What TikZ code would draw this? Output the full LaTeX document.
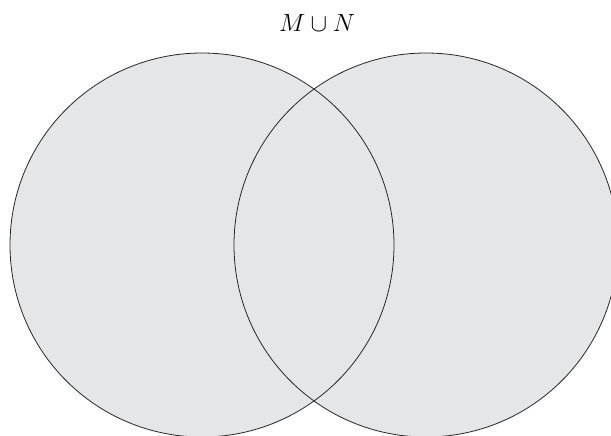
\documentclass[tikz,border=0pt]{standalone}
\usepackage{amsmath}
\definecolor{setfill}{RGB}{229,230,232}
\begin{document}
\begin{tikzpicture}[x=1pt,y=-1pt,
  setcircle/.style={draw=black!85,line width=0.8pt},
  lbl/.style={font=\fontsize{26}{31}\selectfont}]
\useasboundingbox (0,0) rectangle (611,436);
\begin{scope}
\clip (0,0) rectangle (611,436);
\fill[setfill] (202,245) circle[radius=192];
\fill[setfill] (426,245) circle[radius=192];
\node[setcircle,circle,minimum size=384pt,inner sep=0pt] (M) at (202,245) {};
\node[setcircle,circle,minimum size=384pt,inner sep=0pt] (N) at (426,245) {};
\end{scope}
\node[lbl] (t) at (317,23) {$M\cup N$};
\end{tikzpicture}
\end{document}
